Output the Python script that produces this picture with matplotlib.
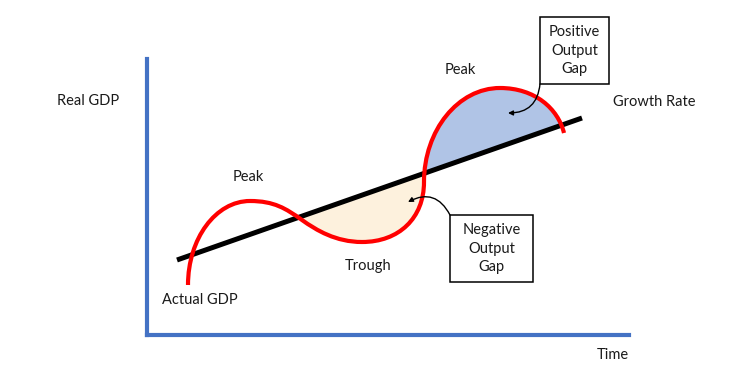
import numpy as np
import matplotlib
matplotlib.use("Agg")
import matplotlib.pyplot as plt
from matplotlib.path import Path
from matplotlib.patches import PathPatch, Polygon, Rectangle

plt.rcParams['font.family'] = ['Lato', 'DejaVu Sans']

# ---- data (diagram units: x = time, y = real GDP) ----
trend_x = [30, 435]
trend_y = [75, 217]

# "Actual GDP" curve: cubic Bezier control points (start point + 3 per segment)
gdp_x = [41, 41, 68.8, 103, 127, 138.8, 155, 169.6, 189, 215, 252, 277, 277,
         277, 311.2, 353, 388, 411, 417]
gdp_y = [50, 96.4, 134, 134, 134, 126.6, 115, 104.6, 93, 93, 93, 117, 153,
         204.7, 247, 247, 247, 226.3, 202]

labels = ["Real GDP", "Peak", "Trough", "Actual GDP", "Peak", "Growth Rate", "Time"]
label_x = [-59, 101, 221, 53, 313, 507, 466]
label_y = [234, 158, 69, 35, 265, 233, -20]

box_text = ["Positive\nOutput\nGap", "Negative\nOutput\nGap"]
box_x0 = [393, 303]
box_x1 = [462, 386]
box_y0 = [251, 53]
box_y1 = [318, 120]
arrow_start = [(393, 251), (303, 120)]
arrow_end = [(361, 222), (261, 133)]
arrow_rad = [-0.45, 0.5]

# ---- figure ----
fig = plt.figure(figsize=(7.5, 3.71), dpi=100)
ax = fig.add_axes([147/750, 36/371, 482/750, 276/371])
ax.set_xlim(0, 482)
ax.set_ylim(0, 276)
for s in ("top", "right"):
    ax.spines[s].set_visible(False)
for s in ("left", "bottom"):
    ax.spines[s].set_color("#4472C4")
    ax.spines[s].set_linewidth(3)
    ax.spines[s].set_capstyle("projecting")
ax.set_xticks([])
ax.set_yticks([])

verts = np.column_stack([gdp_x, gdp_y])
codes = [Path.MOVETO] + [Path.CURVE4] * (len(gdp_x) - 1)
path = Path(verts, codes)

# sample the same path for the shaded gaps
pts = []
for i in range(0, len(gdp_x) - 1, 3):
    p = verts[i:i + 4]
    t = np.linspace(0, 1, 150)[:, None]
    seg = (1 - t) ** 3 * p[0] + 3 * (1 - t) ** 2 * t * p[1] + 3 * (1 - t) * t ** 2 * p[2] + t ** 3 * p[3]
    pts.append(seg if i == 0 else seg[1:])
curve = np.vstack(pts)

slope = (trend_y[1] - trend_y[0]) / (trend_x[1] - trend_x[0])
d = curve[:, 1] - (trend_y[0] + slope * (curve[:, 0] - trend_x[0]))
idx = np.where(np.diff(np.sign(d)) != 0)[0]

def xpt(i):
    f = d[i] / (d[i] - d[i + 1])
    return curve[i] + f * (curve[i + 1] - curve[i])

c1, c2, c3 = idx[1], idx[2], idx[3]
neg_poly = np.vstack([xpt(c1), curve[c1 + 1:c2 + 1], xpt(c2)])
pos_poly = np.vstack([xpt(c2), curve[c2 + 1:c3 + 1], xpt(c3)])
ax.add_patch(Polygon(neg_poly, closed=True, facecolor="#FDF1DD", edgecolor="none", zorder=1))
ax.add_patch(Polygon(pos_poly, closed=True, facecolor="#B0C4E6", edgecolor="none", zorder=1))

# trend line
ax.plot(trend_x, trend_y, color="black", lw=3.6, solid_capstyle="butt", zorder=2)

# red curve
ax.add_patch(PathPatch(path, facecolor="none", edgecolor="#FF0000", lw=3,
                       capstyle="butt", zorder=3))

fs = 10.5
for s, x, y in zip(labels, label_x, label_y):
    ax.text(x, y, s, fontsize=fs, ha="center", va="center", color="#1a1a1a", clip_on=False)

for s, x0, x1, y0, y1, st, en, rad in zip(box_text, box_x0, box_x1, box_y0, box_y1,
                                          arrow_start, arrow_end, arrow_rad):
    ax.add_patch(Rectangle((x0, y0), x1 - x0, y1 - y0, facecolor="white", edgecolor="black",
                           lw=1.1, clip_on=False, zorder=5))
    ax.text((x0 + x1) / 2, (y0 + y1) / 2, s, fontsize=fs, ha="center", va="center",
            linespacing=1.4, color="#1a1a1a", clip_on=False, zorder=6)
    ax.annotate("", xy=en, xytext=st, annotation_clip=False, zorder=4,
                arrowprops=dict(arrowstyle="-|>", color="black", lw=1.0, mutation_scale=7,
                                shrinkA=0, shrinkB=0, connectionstyle=f"arc3,rad={rad}"))

fig.savefig("out.png", dpi=100)
